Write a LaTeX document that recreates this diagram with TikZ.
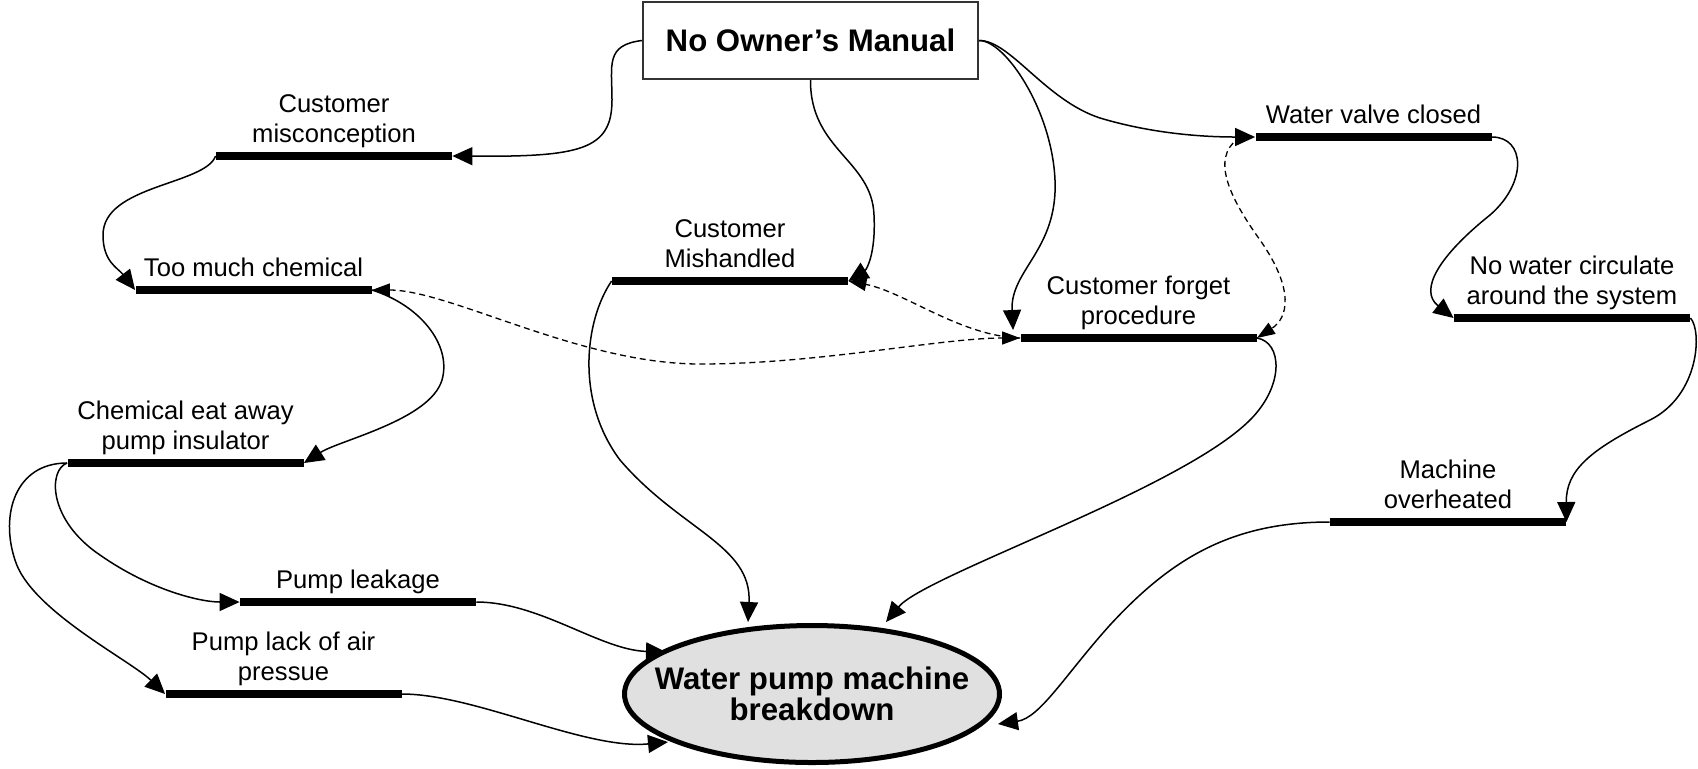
\documentclass[tikz,border=0pt]{standalone}
\usepackage{fontspec}
\setmainfont{Liberation Sans}
\usetikzlibrary{arrows.meta,shapes.geometric,calc}

\begin{document}
\begin{tikzpicture}[x=0.5pt,y=-0.5pt,
  bar/.style={fill=black, inner sep=0pt, minimum width=118pt, minimum height=3.6pt, label distance=0pt},
  lab/.style={inner sep=0pt, text depth=0pt, align=center, yshift=4.6pt, font=\fontsize{12.8}{15}\selectfont},
  link/.style={line width=0.75pt, -{Triangle[length=10pt,width=9pt]}},
  dlink/.style={line width=0.65pt, dash pattern=on 3pt off 2pt, -{Triangle[length=9pt,width=6.5pt]}},
]
\useasboundingbox (0,0) rectangle (1698,768);

% top cause and final effect
\node[draw=black!80, line width=1pt, fill=white, minimum width=167.5pt, minimum height=38.5pt,
      inner sep=0pt, font=\bfseries\fontsize{15.6}{18}\selectfont] (own) at (810.5,40.5) {No Owner’s Manual};
\node[ellipse, draw, line width=2.5pt, fill=black!12, minimum width=187.5pt, minimum height=68.5pt,
      inner sep=0pt] (ell) at (812,694) {};
\node[align=center, inner sep=0pt, font=\bfseries\fontsize{15.6}{15.5}\selectfont] (ellt) at (ell.center)
      {Water pump machine\\breakdown};

% intermediate causes, drawn as labelled bars
\node[bar, label={[lab]above:{Customer\\misconception}}] (mis) at (334,156) {};
\node[bar, label={[lab]above:{Too much chemical}}] (tmc) at (253.5,290) {};
\node[bar, label={[lab]above:{Customer\\Mishandled}}] (mish) at (730,281) {};
\node[bar, label={[lab]above:{Customer forget\\procedure}}] (cfp) at (1138.5,338) {};
\node[bar, label={[lab]above:{Water valve closed}}] (wvc) at (1373.5,137) {};
\node[bar, label={[lab]above:{No water circulate\\around the system}}] (nwc) at (1572,318) {};
\node[bar, label={[lab]above:{Machine\\overheated}}] (mo) at (1448,522) {};
\node[bar, label={[lab]above:{Chemical eat away\\pump insulator}}] (cea) at (185.5,463) {};
\node[bar, label={[lab]above:{Pump leakage}}] (pl) at (358,602) {};
\node[bar, label={[lab]above:{Pump lack of air\\pressue}}] (plap) at (283.5,694) {};

% solid cause-effect links
\draw[link] (own.west) .. controls (605,45) and (612,65) .. (612,100)
            .. controls (612,150) and (580,157) .. (mis.east);
\draw[link] (mis.west) .. controls (205,185) and (103,185) .. (103,235)
            .. controls (103,262) and (118,268) .. (tmc.west);
\draw[link] (own.south) .. controls (810,150) and (872,160) .. (874,215)
            .. controls (876,255) and (866,270) .. (mish.east);
\draw[link] (own.east) .. controls (1005,40) and (1052,110) .. (1055,180)
            .. controls (1058,250) and (1010,270) .. ($(cfp.west)+(-7,-8)$);
\draw[link] (own.east) .. controls (1010,40) and (1045,100) .. (1100,118)
            .. controls (1150,133) and (1200,137) .. (wvc.west);
\draw[link] (wvc.east) .. controls (1525,137) and (1528,182) .. (1490,215)
            .. controls (1440,255) and (1418,290) .. (nwc.west);
\draw[link] (nwc.east) .. controls (1702,330) and (1700,395) .. (1650,420)
            .. controls (1590,450) and (1566,470) .. (mo.east);
\draw[link] (mo.west) .. controls (1230,522) and (1170,560) .. (1110,625)
            .. controls (1065,675) and (1040,718) .. ($(ell.center)+(186,30)$);
\draw[link] (pl.east) .. controls (540,602) and (600,650) .. ($(ell.center)+(-146,-42)$);
\draw[link] (plap.east) .. controls (475,694) and (585,750) .. ($(ell.center)+(-144,48)$);
\draw[link] (cea.west) .. controls (48,470) and (48,520) .. (100,555)
            .. controls (150,590) and (200,602) .. (pl.west);
\draw[link] (cea.west) .. controls (15,463) and (0,515) .. (15,560)
            .. controls (30,610) and (130,660) .. (plap.west);
\draw[link] (tmc.east) .. controls (420,305) and (452,345) .. (442,380)
            .. controls (430,420) and (340,440) .. (cea.east);
\draw[link] (mish.west) .. controls (585,320) and (575,400) .. (620,460)
            .. controls (680,530) and (752,545) .. ($(ell.center)+(-64,-72)$);
\draw[link] (cfp.east) .. controls (1282,342) and (1285,385) .. (1250,420)
            .. controls (1180,490) and (925,575) .. ($(ell.center)+(74,-72)$);

% dashed links
\draw[dlink] ($(wvc.west)+(-22,6)$) .. controls (1212,165) and (1235,205) .. (1260,240)
            .. controls (1295,290) and (1288,318) .. (cfp.east);
\draw[dlink] (cfp.west) .. controls (960,336) and (905,292) .. (mish.east);
\draw[dlink, {Triangle[length=9pt,width=6.5pt]}-{Triangle[length=9pt,width=6.5pt]}]
            (tmc.east) .. controls (450,290) and (580,364) .. (700,364)
            .. controls (820,364) and (940,338) .. (cfp.west);
\end{tikzpicture}
\end{document}
